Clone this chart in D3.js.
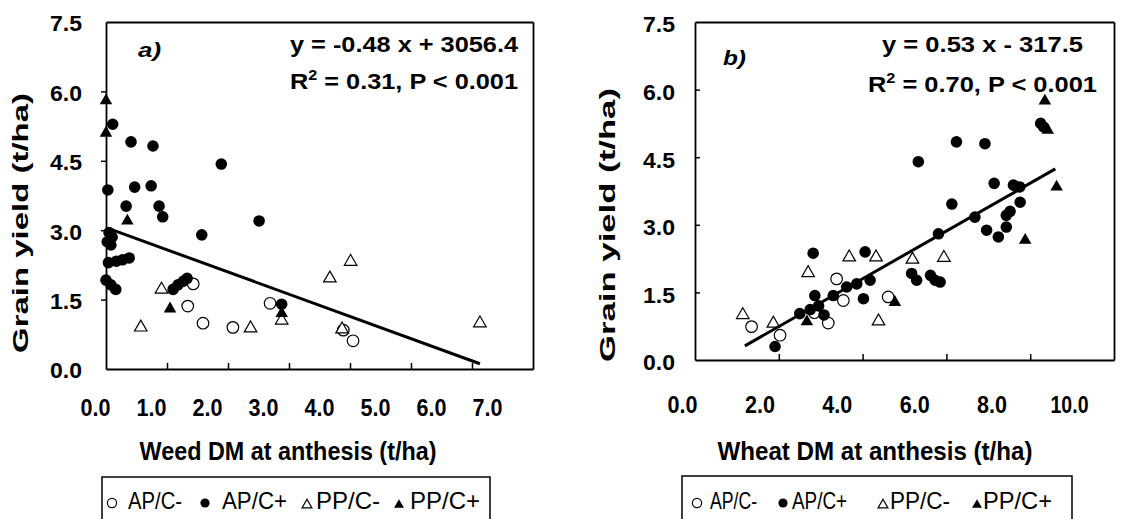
<!DOCTYPE html>
<html>
<head>
<meta charset="utf-8">
<script src="https://cdn.jsdelivr.net/npm/d3@7"></script>
<style>
  html, body { margin: 0; padding: 0; background: #fff; }
  svg { display: block; }
</style>
</head>
<body>
<svg id="chart" width="1141" height="519"></svg>
<script>
// ---------- DATA ----------
const seriesNames = ["AP/C-", "AP/C+", "PP/C-", "PP/C+"];

const weedAPCminus = [[1.43,1.84],[1.34,1.36],[1.59,0.99],[2.08,0.90],[2.69,1.42],[3.89,0.84],[4.05,0.61]];
const weedAPCplus = [[0.11,5.29],[0.41,4.91],[0.77,4.82],[1.89,4.43],[0.03,3.87],[0.47,3.93],[0.74,3.96],
  [0.33,3.52],[0.87,3.52],[0.93,3.29],[2.51,3.20],[1.57,2.90],[2.88,1.40],[0.05,2.95],[0.10,2.85],
  [0.02,2.75],[0.08,2.68],[0.04,2.30],[0.17,2.33],[0.27,2.36],[0.38,2.40],[0.00,1.92],[0.08,1.82],
  [0.16,1.72],[1.10,1.72],[1.18,1.82],[1.27,1.90],[1.33,1.96]];
const weedPPCminus = [[0.91,1.72],[0.57,0.90],[2.37,0.88],[3.67,1.96],[4.01,2.32],[3.87,0.86],[6.13,0.99],[2.88,1.05]];
const weedPPCplus = [[0.00,5.80],[0.00,5.10],[0.35,3.20],[1.05,1.30],[2.88,1.20]];
const weedFit = { slope: -0.48, intercept: 3.0564, from: 0.07, to: 6.13 };
const weedEq = ["y = -0.48 x + 3056.4", "0.31", "0.001"];
const weedXTicks = [0, 1, 2, 3, 4, 5, 6, 7];

const wheatAPCminus = [[1.35,0.74],[2.03,0.55],[3.38,1.80],[3.54,1.32],[3.18,0.82],[4.61,1.40],[2.85,1.05]];
const wheatAPCplus = [[8.25,5.25],[8.32,5.17],[6.24,4.84],[6.92,4.80],[5.33,4.40],[7.14,3.92],[7.60,3.88],
  [7.75,3.84],[6.13,3.46],[7.76,3.50],[6.68,3.17],[7.43,3.21],[7.52,3.30],[6.96,2.88],[7.24,2.73],
  [7.43,2.95],[5.81,2.80],[5.17,1.92],[5.29,1.77],[5.73,1.77],[5.85,1.73],[5.62,1.88],[4.06,2.40],
  [2.82,2.37],[4.02,1.36],[2.86,1.43],[3.30,1.43],[3.62,1.62],[3.86,1.69],[4.18,1.77],[2.50,1.03],
  [2.75,1.12],[2.95,1.20],[3.08,1.00],[1.91,0.30]];
const wheatPPCminus = [[1.14,1.00],[1.87,0.81],[2.70,1.93],[3.68,2.28],[4.32,2.28],[4.38,0.86],[5.19,2.23],[5.94,2.27]];
const wheatPPCplus = [[8.35,5.75],[8.42,5.10],[8.63,3.84],[7.88,2.66],[4.77,1.28],[2.67,0.85]];
const wheatFit = { slope: 0.53, intercept: -0.3175, from: 1.19, to: 8.6 };
const wheatEq = ["y = 0.53 x - 317.5", "0.70", "0.001"];
const wheatXTicks = [0, 2, 4, 6, 8, 10];

const yTicks = [0, 1.5, 3, 4.5, 6, 7.5];
const yTitle = "Grain yield (t/ha)";

// ---------- DRAW ----------
const FONT = "Liberation Sans, Arial, sans-serif";
const svg = d3.select("#chart");
svg.append("rect").attr("width", 1141).attr("height", 519).attr("fill", "#fff");

const panels = [
  { xDomain: [0, 7], left: 106, right: 533, top: 22, bottom: 369, yIn: false, xTicks: weedXTicks },
  { xDomain: [0, 10], left: 695, right: 1114, top: 22, bottom: 360, yIn: true, xTicks: wheatXTicks }
];
const scales = panels.map(p => ({
  x: d3.scaleLinear().domain(p.xDomain).range([p.left, p.right]),
  y: d3.scaleLinear().domain([0, 7.5]).range([p.bottom, p.top])
}));

function styleAxis(sel) {
  sel.selectAll(".domain").attr("stroke", "#000").attr("stroke-width", 1.8).attr("fill", "none");
  sel.selectAll(".tick line").attr("stroke", "#000").attr("stroke-width", 1.5);
  sel.selectAll(".tick text").remove();
}

function drawMarkers(g, pts, kind, x, y, big) {
  const r = big ? 5.8 : 4.6;
  const ts = big ? 68 : 42;
  const circ = d3.symbol().type(d3.symbolCircle).size(Math.PI * r * r)();
  const triP = d3.symbol().type(d3.symbolTriangle).size(ts)();
  const sel = g.append("g").selectAll("path").data(pts).join("path")
    .attr("transform", d => `translate(${x(d[0])},${y(d[1])})`)
    .attr("d", kind < 2 ? circ : triP);
  if (kind === 0 || kind === 2) sel.attr("fill", "#fff").attr("stroke", "#000").attr("stroke-width", 1.2);
  else sel.attr("fill", "#000").attr("stroke", "none");
}

const T = (sel) => sel.attr("font-family", FONT).attr("fill", "#000").attr("lengthAdjust", "spacingAndGlyphs");

function panel(i, cfg) {
  const g = svg.append("g");
  const p = panels[i];
  const { x, y } = scales[i];
  const xLab = d3.scaleLinear().domain(p.xDomain).range(cfg.xLabRange);

  [0, 2, 1, 3].forEach(k => drawMarkers(g, cfg.series[k], k, x, y, true));

  const f = cfg.fit;
  g.append("path")
    .datum([f.from, f.to])
    .attr("d", d3.line().x(d => x(d)).y(d => y(f.slope * d + f.intercept)))
    .attr("stroke", "#000").attr("stroke-width", 3).attr("fill", "none");

  // plot border via the four axes' domain lines, with inner/outer tick marks
  g.append("g").attr("transform", `translate(0,${y(0)})`)
    .call(d3.axisTop(x).tickValues(p.xTicks.slice(1, -1)).tickSize(6).tickSizeOuter(0).tickFormat(""))
    .call(styleAxis);
  g.append("g").attr("transform", `translate(0,${y(7.5)})`)
    .call(d3.axisTop(x).tickValues([]).tickSizeOuter(0))
    .call(styleAxis);
  g.append("g").attr("transform", `translate(${x(p.xDomain[0])},0)`)
    .call((p.yIn ? d3.axisRight(y) : d3.axisLeft(y)).tickValues(yTicks.slice(1, -1)).tickSize(5).tickSizeOuter(0).tickFormat(""))
    .call(styleAxis);
  g.append("g").attr("transform", `translate(${x(p.xDomain[1])},0)`)
    .call(d3.axisRight(y).tickValues([]).tickSizeOuter(0))
    .call(styleAxis);

  const xl = g.append("g").attr("transform", `translate(0,${cfg.xLabBase})`)
    .call(d3.axisBottom(xLab).tickValues(p.xTicks).tickSize(0).tickFormat(d3.format(".1f")));
  xl.select(".domain").remove();
  xl.selectAll("text").attr("y", 0).attr("dy", 0).attr("fill", "#000")
    .attr("font-size", 23).attr("font-weight", "bold").attr("font-family", FONT)
    .attr("textLength", d => d >= 10 ? 38 : 30).attr("lengthAdjust", "spacingAndGlyphs");

  const yl = g.append("g").attr("transform", `translate(${cfg.yLabRight},${cfg.yLabShift})`)
    .call(d3.axisLeft(y).tickValues(yTicks).tickSize(0).tickPadding(0).tickFormat(d3.format(".1f")));
  yl.select(".domain").remove();
  yl.selectAll("text").attr("dy", "0.36em").attr("fill", "#000")
    .attr("font-size", 22).attr("font-weight", "bold").attr("font-family", FONT)
    .attr("textLength", 32).attr("lengthAdjust", "spacingAndGlyphs");

  g.append("text").call(T).attr("transform", `translate(${cfg.yTitleX},${cfg.yTitleY}) rotate(-90)`)
    .attr("text-anchor", "middle").attr("font-size", 22).attr("font-weight", "bold")
    .attr("textLength", cfg.yTitleLen).text(yTitle);
  g.append("text").call(T).attr("x", cfg.xTitleX).attr("y", cfg.xTitleY)
    .attr("text-anchor", "middle").attr("font-size", 25).attr("font-weight", "bold")
    .attr("textLength", cfg.xTitleLen).text(cfg.xTitle);

  g.append("text").call(T).attr("x", cfg.letterX).attr("y", cfg.letterY)
    .attr("font-size", 20).attr("font-weight", "bold").attr("font-style", "italic")
    .attr("textLength", 23).text(cfg.letter);

  g.append("text").call(T).attr("x", cfg.eqX1).attr("y", cfg.eqY1)
    .attr("font-size", 22).attr("font-weight", "bold")
    .attr("textLength", cfg.eqLen1).text(cfg.eq[0]);
  const r2 = g.append("text").call(T).attr("x", cfg.eqX2).attr("y", cfg.eqY2)
    .attr("font-size", 22).attr("font-weight", "bold")
    .attr("textLength", cfg.eqLen2);
  r2.append("tspan").text("R");
  r2.append("tspan").attr("dy", -9).attr("font-size", 14).text("2");
  r2.append("tspan").attr("dy", 9).text(` = ${cfg.eq[1]}, P < ${cfg.eq[2]}`);

  const L = cfg.legend;
  g.append("path")
    .attr("d", `M${L.x},530V${L.y}H${L.x + L.w}V530`)
    .attr("fill", "none").attr("stroke", "#000").attr("stroke-width", 1.5);
  seriesNames.forEach((name, k) => {
    const mx = L.marks[k];
    drawMarkers(g, [[0, 0]], k, () => mx, () => (k >= 2 ? 505 : 503), false);
    g.append("text").call(T).attr("x", L.texts[k][0]).attr("y", 509)
      .attr("font-size", 24)
      .attr("textLength", L.texts[k][1]).text(name);
  });
}

panel(0, {
  xLabRange: [95, 487], xLabBase: 416, yLabRight: 82, yLabShift: 1,
  series: [weedAPCminus, weedAPCplus, weedPPCminus, weedPPCplus],
  fit: weedFit, eq: weedEq,
  yTitleX: 28, yTitleY: 223, yTitleLen: 260,
  xTitle: "Weed DM at anthesis (t/ha)", xTitleX: 288, xTitleY: 460, xTitleLen: 297,
  letter: "a)", letterX: 138, letterY: 57,
  eqX1: 290, eqY1: 52, eqLen1: 228, eqX2: 290, eqY2: 89, eqLen2: 228,
  legend: { x: 102, y: 477, w: 388, marks: [112, 205, 307, 399],
    texts: [[128, 54], [222, 65], [316, 64], [410, 70]] }
});

panel(1, {
  xLabRange: [682, 1069], xLabBase: 413, yLabRight: 675, yLabShift: 2,
  series: [wheatAPCminus, wheatAPCplus, wheatPPCminus, wheatPPCplus],
  fit: wheatFit, eq: wheatEq,
  yTitleX: 615, yTitleY: 225, yTitleLen: 274,
  xTitle: "Wheat DM at anthesis (t/ha)", xTitleX: 875, xTitleY: 460, xTitleLen: 315,
  letter: "b)", letterX: 723, letterY: 65,
  eqX1: 882, eqY1: 52, eqLen1: 201, eqX2: 868, eqY2: 92, eqLen2: 229,
  legend: { x: 682, y: 476, w: 390, marks: [697, 783, 883, 977],
    texts: [[710, 47], [792, 55], [890, 60], [983, 69]] }
});
</script>
</body>
</html>
